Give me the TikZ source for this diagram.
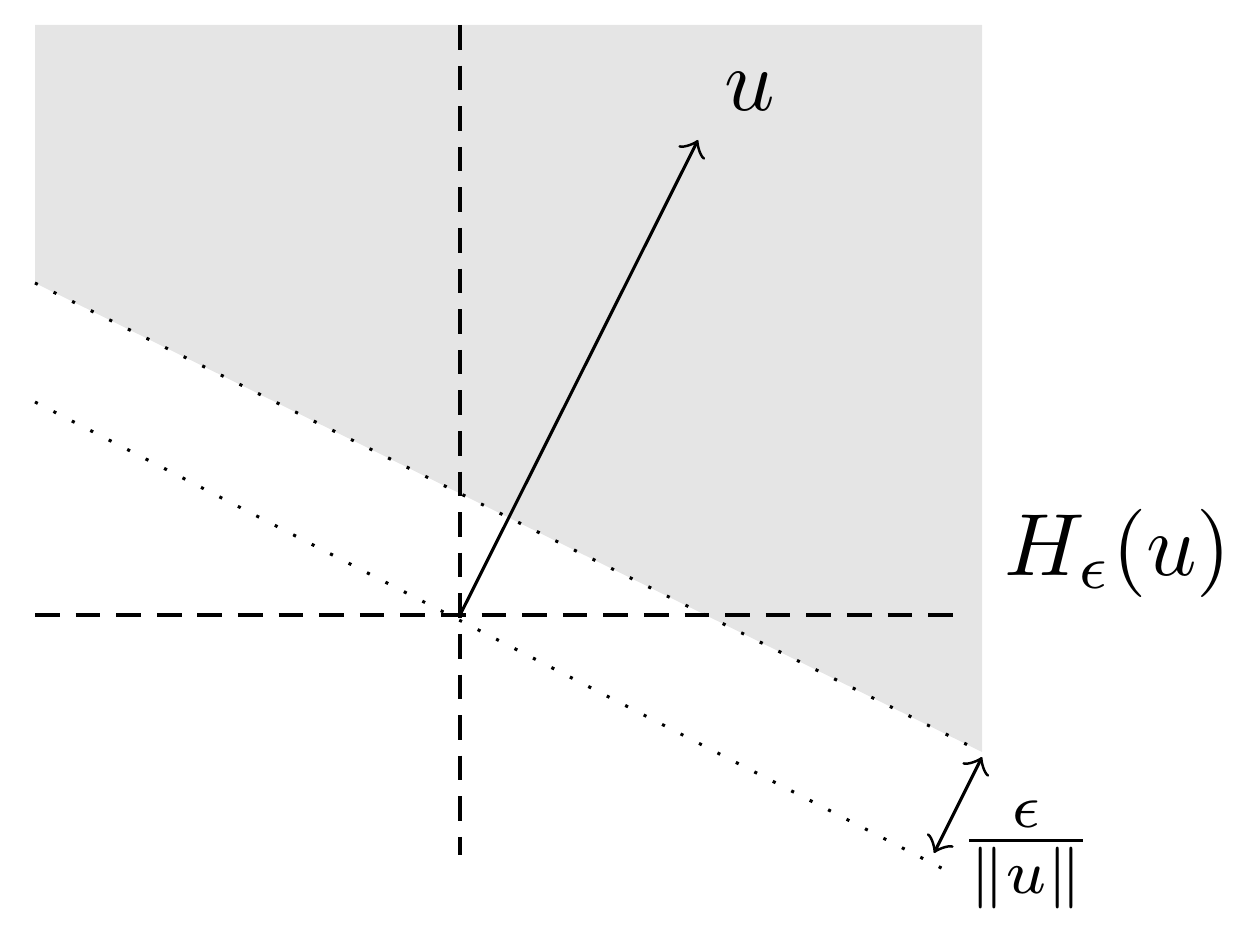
\documentclass[tikz,border=0pt]{standalone}
\begin{document}
\begin{tikzpicture}[x=0.00398cm,y=-0.00398cm,
  axis/.style={dash pattern=on 2.8pt off 1.8pt,line width=0.35pt},
  dotline/.style={dotted,line width=0.35pt},
  vec/.style={->,line width=0.35pt}]
\useasboundingbox (0,0) rectangle (1240,925);
\fill[gray!20] (35,25) -- (982,25) -- (982,752) -- (35,283) -- cycle;
\coordinate (o) at (460,615);
\coordinate (vt) at (460,25); \coordinate (vb) at (460,855);
\coordinate (hl) at (35,615); \coordinate (hr) at (960,615);
\draw[axis] (vt) -- (vb);
\draw[axis] (hl) -- (hr);
\coordinate (a1) at (35,283); \coordinate (a2) at (982,752);
\coordinate (b1) at (35,402); \coordinate (b2) at (955,875);
\draw[dotline] (a1) -- (a2);
\draw[dotline] (b1) -- (b2);
\coordinate (ut) at (698,140);
\draw[vec] (o) -- (ut);
\node (ul) at (750,92) {$u$};
\node (hl2) at (1118,553) {$H_\epsilon(u)$};
\coordinate (e1) at (934,853); \coordinate (e2) at (982,757);
\draw[<->,line width=0.35pt] (e1) -- (e2);
\node (fr) at (1026,855) {$\frac{\epsilon}{\|u\|}$};
\end{tikzpicture}
\end{document}
